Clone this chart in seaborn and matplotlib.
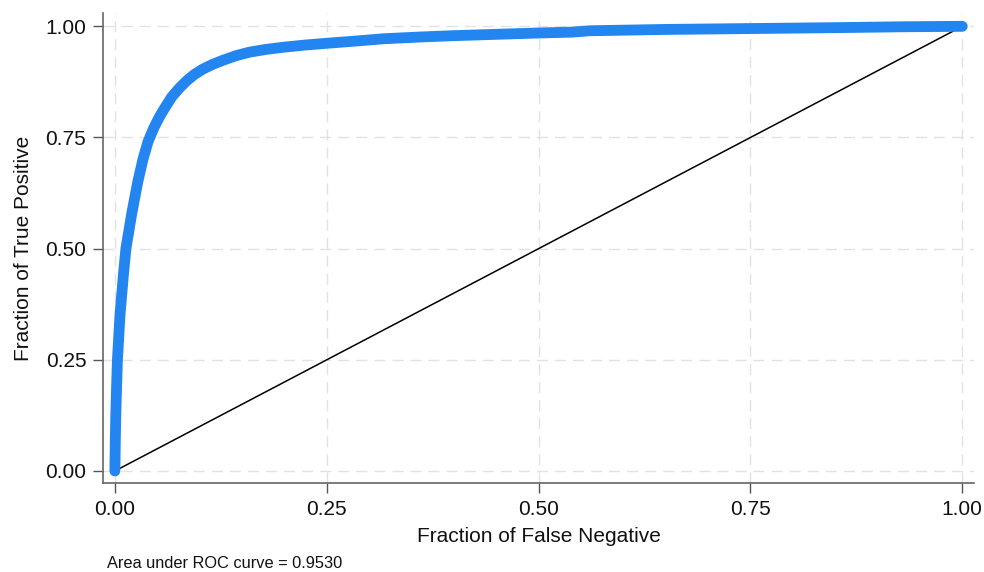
'''
ROC curve recreated with seaborn
'''

import pandas as pd
import seaborn as sns
import matplotlib.pyplot as plt

# ROC points
fpr = [0.0, 0.0005, 0.001, 0.002, 0.003, 0.006, 0.010, 0.013, 0.020, 0.027,
       0.033, 0.039, 0.046, 0.053, 0.060, 0.067, 0.076, 0.085, 0.094, 0.104,
       0.116, 0.128, 0.143, 0.159, 0.178, 0.199, 0.225, 0.251, 0.285, 0.317,
       0.360, 0.400, 0.450, 0.500, 0.540, 0.560, 0.650, 0.750, 0.850, 0.930,
       1.0]
tpr = [0.0, 0.07, 0.12, 0.19, 0.25, 0.35, 0.44, 0.50, 0.58, 0.650,
       0.700, 0.740, 0.772, 0.798, 0.820, 0.841, 0.861, 0.878, 0.892, 0.904,
       0.915, 0.924, 0.934, 0.942, 0.948, 0.953, 0.958, 0.962, 0.967, 0.972,
       0.976, 0.979, 0.982, 0.985, 0.987, 0.990, 0.993, 0.995, 0.997, 0.999,
       1.0]
ticks = [0.0, 0.25, 0.5, 0.75, 1.0]
tick_labels = ['0.00', '0.25', '0.50', '0.75', '1.00']
auc_text = 'Area under ROC curve = 0.9530'


def plot_roc(data):
    sns.set_style('white')
    plt.rcParams['font.family'] = ['Liberation Sans', 'DejaVu Sans']

    fig = plt.figure(figsize=(9.84, 5.72), dpi=100)
    ax = fig.add_axes([0.1047, 0.1556, 0.8853, 0.8217])

    # reference line
    sns.lineplot(x=[0, 1], y=[0, 1], color='black', linewidth=1.1, ax=ax)
    sns.lineplot(x='fpr', y='tpr', data=data, sort=False, color='#2386f0',
                 linewidth=7.8, solid_capstyle='round',
                 solid_joinstyle='round', ax=ax)

    ax.set_xlim(-0.014, 1.014)
    ax.set_ylim(-0.027, 1.03)
    ax.set_xticks(ticks)
    ax.set_xticklabels(tick_labels)
    ax.set_yticks(ticks)
    ax.set_yticklabels(tick_labels)
    ax.grid(True, linestyle=(0, (8, 5)), color='#e2e2e2', linewidth=1)
    ax.tick_params(axis='both', direction='out', length=7, width=1,
                   color='#555555', labelsize=15, labelcolor='#111111',
                   pad=5, bottom=True, left=True)
    for side in ['top', 'right']:
        ax.spines[side].set_visible(False)
    for side in ['left', 'bottom']:
        ax.spines[side].set_color('#666666')
        ax.spines[side].set_linewidth(1.2)

    ax.set_xlabel('Fraction of False Negative', fontsize=15, labelpad=6,
                  color='#111111')
    ax.set_ylabel('Fraction of True Positive', fontsize=15, labelpad=9,
                  color='#111111')
    fig.text(107 / 984, 1 - 563 / 572, auc_text, fontsize=11.8,
             ha='left', va='center', color='#111111')
    fig.savefig('out.png', dpi=100)


def main():
    data = pd.DataFrame({'fpr': fpr, 'tpr': tpr})
    plot_roc(data)


if __name__ == '__main__':
    main()
